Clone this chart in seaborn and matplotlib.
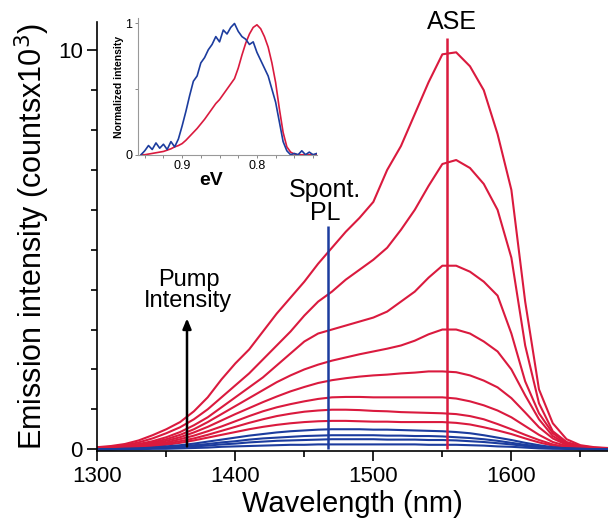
from matplotlib import pyplot as plt
from matplotlib.ticker import MultipleLocator
import pandas as pd
import seaborn as sns
import numpy as np

# emission spectra (counts x 10^3), 10 nm steps
wavelength = list(range(1300, 1671, 10))

red_1 = [0.05, 0.08, 0.13, 0.22, 0.35, 0.5, 0.68, 0.95, 1.3, 1.75,
         2.15, 2.5, 2.95, 3.4, 3.8, 4.2, 4.65, 5.05, 5.45, 5.8,
         6.2, 7.0, 7.6, 8.4, 9.2, 9.9, 9.95, 9.6, 9.0, 7.9,
         6.5, 3.7, 1.5, 0.65, 0.25, 0.1, 0.05, 0.03]
red_2 = [0.04, 0.06, 0.1, 0.17, 0.27, 0.4, 0.55, 0.75, 1.0, 1.3,
         1.6, 1.9, 2.25, 2.6, 2.95, 3.35, 3.7, 3.95, 4.25, 4.5,
         4.75, 5.05, 5.5, 6.0, 6.6, 7.15, 7.25, 7.05, 6.65, 6.0,
         4.8, 2.6, 1.15, 0.45, 0.18, 0.08, 0.04, 0.02]
red_3 = [0.03, 0.05, 0.08, 0.13, 0.2, 0.3, 0.43, 0.6, 0.8, 1.05,
         1.3, 1.55, 1.8, 2.1, 2.4, 2.7, 2.9, 3.0, 3.1, 3.2,
         3.3, 3.45, 3.7, 3.95, 4.3, 4.6, 4.6, 4.45, 4.2, 3.85,
         2.9, 1.7, 0.9, 0.4, 0.15, 0.06, 0.03, 0.02]
red_4 = [0.02, 0.04, 0.07, 0.11, 0.17, 0.25, 0.36, 0.5, 0.68, 0.88,
         1.08, 1.28, 1.48, 1.68, 1.85, 2.0, 2.12, 2.22, 2.3, 2.38,
         2.45, 2.52, 2.6, 2.72, 2.88, 3.0, 3.0, 2.9, 2.7, 2.45,
         2.0, 1.35, 0.75, 0.33, 0.13, 0.05, 0.03, 0.02]
red_5 = [0.02, 0.03, 0.06, 0.09, 0.14, 0.21, 0.3, 0.42, 0.56, 0.72,
         0.88, 1.03, 1.18, 1.32, 1.45, 1.56, 1.66, 1.73, 1.78, 1.82,
         1.85, 1.87, 1.9, 1.92, 1.95, 1.95, 1.93, 1.85, 1.72, 1.55,
         1.28, 0.92, 0.55, 0.27, 0.11, 0.05, 0.02, 0.01]
red_6 = [0.01, 0.02, 0.05, 0.08, 0.12, 0.17, 0.25, 0.34, 0.45, 0.57,
         0.7, 0.83, 0.95, 1.05, 1.13, 1.2, 1.26, 1.3, 1.31, 1.31,
         1.3, 1.3, 1.3, 1.3, 1.3, 1.3, 1.27, 1.2, 1.1, 0.97,
         0.8, 0.58, 0.36, 0.18, 0.08, 0.03, 0.02, 0.01]
red_7 = [0.01, 0.02, 0.04, 0.06, 0.09, 0.14, 0.2, 0.27, 0.36, 0.46,
         0.56, 0.66, 0.75, 0.83, 0.89, 0.94, 0.97, 0.99, 0.99, 0.98,
         0.96, 0.95, 0.93, 0.92, 0.91, 0.9, 0.88, 0.83, 0.75, 0.63,
         0.5, 0.36, 0.23, 0.12, 0.05, 0.02, 0.01, 0.01]
red_8 = [0.01, 0.02, 0.03, 0.05, 0.07, 0.11, 0.16, 0.22, 0.29, 0.36,
         0.43, 0.5, 0.56, 0.61, 0.65, 0.68, 0.7, 0.71, 0.71, 0.7,
         0.69, 0.69, 0.68, 0.68, 0.68, 0.68, 0.66, 0.62, 0.55, 0.47,
         0.38, 0.27, 0.17, 0.09, 0.04, 0.02, 0.01, 0.0]
blue_1 = [0.0, 0.0, 0.01, 0.02, 0.04, 0.07, 0.1, 0.14, 0.19, 0.24,
          0.29, 0.34, 0.38, 0.42, 0.45, 0.47, 0.49, 0.5, 0.5, 0.5,
          0.49, 0.49, 0.48, 0.47, 0.46, 0.45, 0.43, 0.4, 0.35, 0.29,
          0.23, 0.16, 0.1, 0.05, 0.02, 0.01, 0.0, 0.0]
blue_2 = [0.0, 0.0, 0.01, 0.01, 0.03, 0.05, 0.07, 0.1, 0.13, 0.17,
          0.2, 0.24, 0.27, 0.29, 0.31, 0.33, 0.34, 0.35, 0.35, 0.35,
          0.35, 0.34, 0.34, 0.33, 0.33, 0.32, 0.3, 0.28, 0.25, 0.21,
          0.16, 0.11, 0.07, 0.04, 0.02, 0.01, 0.0, 0.0]
blue_3 = [0.0, 0.0, 0.0, 0.01, 0.02, 0.03, 0.05, 0.07, 0.09, 0.12,
          0.14, 0.17, 0.19, 0.21, 0.22, 0.23, 0.24, 0.25, 0.25, 0.25,
          0.25, 0.24, 0.24, 0.24, 0.23, 0.23, 0.22, 0.2, 0.18, 0.15,
          0.12, 0.08, 0.05, 0.03, 0.01, 0.0, 0.0, 0.0]
blue_4 = [0.0, 0.0, 0.0, 0.0, 0.01, 0.01, 0.02, 0.03, 0.04, 0.06,
          0.07, 0.08, 0.09, 0.1, 0.11, 0.11, 0.12, 0.12, 0.12, 0.12,
          0.12, 0.12, 0.12, 0.12, 0.11, 0.11, 0.11, 0.1, 0.09, 0.07,
          0.06, 0.04, 0.02, 0.01, 0.01, 0.0, 0.0, 0.0]

red_curves = [red_1, red_2, red_3, red_4, red_5, red_6, red_7, red_8]
blue_curves = [blue_1, blue_2, blue_3, blue_4]

# inset: normalised spectra vs photon energy
inset_ev = [0.955, 0.95, 0.945, 0.94, 0.935, 0.93, 0.925, 0.92, 0.915, 0.91,
            0.905, 0.9, 0.895, 0.89, 0.885, 0.88, 0.875, 0.87, 0.865, 0.86,
            0.855, 0.85, 0.845, 0.84, 0.835, 0.83, 0.825, 0.82, 0.815, 0.81,
            0.805, 0.8, 0.795, 0.79, 0.785, 0.78, 0.775, 0.77, 0.765, 0.76,
            0.755, 0.75, 0.745, 0.74, 0.735, 0.73, 0.725, 0.72]
inset_ase = [0.0, 0.0, 0.005, 0.01, 0.015, 0.02, 0.025, 0.035, 0.045, 0.06,
             0.07, 0.085, 0.11, 0.14, 0.17, 0.2, 0.235, 0.27, 0.31, 0.35,
             0.39, 0.42, 0.46, 0.5, 0.54, 0.58, 0.66, 0.76, 0.85, 0.92,
             0.97, 0.99, 0.96, 0.9, 0.82, 0.7, 0.55, 0.35, 0.17, 0.06,
             0.02, 0.005, 0.0, 0.0, 0.0, 0.0, 0.0, 0.0]
inset_pl = [0.0, 0.03, 0.07, 0.04, 0.09, 0.05, 0.08, 0.04, 0.1, 0.06,
            0.12, 0.22, 0.33, 0.45, 0.56, 0.6, 0.7, 0.74, 0.8, 0.84,
            0.9, 0.86, 0.95, 0.92, 0.97, 1.0, 0.94, 0.9, 0.88, 0.84,
            0.86, 0.78, 0.72, 0.66, 0.6, 0.5, 0.4, 0.25, 0.1, 0.03,
            0.0, 0.01, 0.0, 0.03, 0.0, 0.02, 0.0, 0.01]

ase_nm = 1553
pl_nm = 1467
pump_nm = 1365

RED = "#da1a3e"
BLUE = "#1c3c9e"

sns.set_style("ticks")
plt.rcParams["font.family"] = ["Liberation Sans", "DejaVu Sans"]
plt.rcParams.update({"text.color": "black", "axes.labelcolor": "black",
                     "xtick.color": "black", "ytick.color": "black"})

fig = plt.figure(figsize=(6.08, 5.21), dpi=100)
ax = fig.add_axes([0.16, 0.134, 0.84, 0.823])

for curve in red_curves:
    sns.lineplot(x=wavelength, y=curve, ax=ax, color=RED, lw=1.5)
for curve in blue_curves:
    sns.lineplot(x=wavelength, y=curve, ax=ax, color=BLUE, lw=1.5)

ax.vlines(ase_nm, 0, 10.3, color=RED, lw=1.8)
ax.vlines(pl_nm, 0, 5.6, color=BLUE, lw=1.8)
ax.annotate("", xy=(pump_nm, 3.35), xytext=(pump_nm, 0),
            arrowprops=dict(arrowstyle="-|>,head_width=0.25,head_length=0.6",
                            color="black", lw=1.8))
ax.text(1557, 10.72, "ASE", ha="center", va="center", fontsize=18)
ax.text(1465, 6.2, "Spont.\nPL", ha="center", va="center", fontsize=18,
        linespacing=0.95)
ax.text(1366, 3.98, "Pump\nIntensity", ha="center", va="center",
        fontsize=17, linespacing=0.95)

ax.set_xlim(1300, 1670)
ax.set_ylim(-0.05, 10.7)
ax.set_xticks([1300, 1400, 1500, 1600])
ax.xaxis.set_minor_locator(MultipleLocator(50))
ax.set_yticks([0, 10])
ax.yaxis.set_minor_locator(MultipleLocator(1))
ax.tick_params(which="major", length=7, width=1.2, labelsize=16)
ax.tick_params(which="minor", length=4, width=1.2)
ax.set_xlabel("Wavelength (nm)", fontsize=21, labelpad=2)
ax.set_ylabel("Emission intensity (countsx10$^3$)", fontsize=22, labelpad=4)
sns.despine(ax=ax)
for s in ["left", "bottom"]:
    ax.spines[s].set_linewidth(1.2)
    ax.spines[s].set_color("black")

# inset
ax_in = fig.add_axes([0.227, 0.703, 0.294, 0.262])
sns.lineplot(x=inset_ev, y=inset_ase, ax=ax_in, color=RED, lw=1.2)
sns.lineplot(x=inset_ev, y=inset_pl, ax=ax_in, color=BLUE, lw=1.2)
ax_in.set_xlim(0.959, 0.72)
ax_in.set_ylim(0, 1.04)
ax_in.set_xticks([0.9, 0.8])
ax_in.set_xticklabels(["0.9", "0.8"])
ax_in.xaxis.set_minor_locator(MultipleLocator(0.025))
ax_in.set_yticks([0, 1])
ax_in.yaxis.set_minor_locator(MultipleLocator(0.5))
ax_in.tick_params(which="both", length=2, width=0.7, labelsize=9, pad=2,
                  color="#888888")
ax_in.set_xlabel("eV", fontsize=14, fontweight="bold", labelpad=0, x=0.41)
ax_in.set_ylabel("Normalized intensity", fontsize=7.5, fontweight="bold",
                 labelpad=1)
ax_in.patch.set_alpha(0)
sns.despine(ax=ax_in)
for s in ["left", "bottom"]:
    ax_in.spines[s].set_linewidth(0.8)
    ax_in.spines[s].set_color("#999999")

fig.savefig("out.png", dpi=100)
